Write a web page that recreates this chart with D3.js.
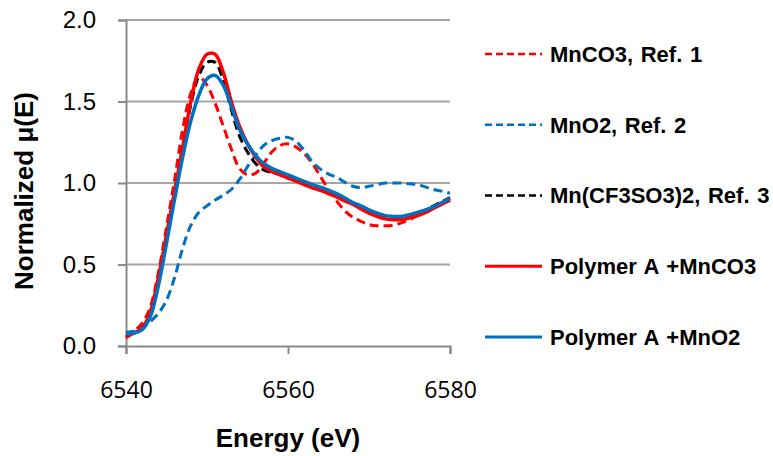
<!DOCTYPE html>
<html>
<head>
<meta charset="utf-8">
<script src="https://cdn.jsdelivr.net/npm/d3@7"></script>
<style>
  body { margin: 0; background: #fff; }
  svg { display: block; }
</style>
</head>
<body>
<div id="chart"></div>
<script>
// energy grid (eV), shared by all spectra
const energy = d3.range(6540, 6581, 1);

// normalized mu(E) at each energy
const mnco3Ref = [0.05, 0.09, 0.14, 0.24, 0.45, 0.73, 1.02, 1.33, 1.55, 1.65, 1.60, 1.49, 1.35, 1.21, 1.09, 1.05, 1.06, 1.12, 1.19, 1.23, 1.24,
  1.22, 1.18, 1.12, 1.04, 0.96, 0.89, 0.83, 0.79, 0.765, 0.745, 0.737, 0.737, 0.742, 0.755, 0.775, 0.80, 0.825, 0.85, 0.872, 0.895];
const mno2Ref = [0.085, 0.09, 0.11, 0.15, 0.20, 0.28, 0.42, 0.60, 0.74, 0.82, 0.86, 0.895, 0.925, 0.96, 1.02, 1.10, 1.17, 1.23, 1.26, 1.275, 1.28,
  1.255, 1.20, 1.13, 1.085, 1.055, 1.035, 1.005, 0.98, 0.972, 0.98, 0.99, 1.0, 1.0, 1.0, 0.995, 0.99, 0.975, 0.96, 0.95, 0.937];
const mnTriflateRef = [0.06, 0.08, 0.11, 0.20, 0.40, 0.66, 0.94, 1.22, 1.48, 1.66, 1.74, 1.74, 1.63, 1.45, 1.29, 1.19, 1.12, 1.08, 1.065, 1.06, 1.04,
  1.02, 1.005, 0.985, 0.97, 0.95, 0.93, 0.90, 0.875, 0.85, 0.82, 0.80, 0.785, 0.78, 0.785, 0.795, 0.815, 0.835, 0.86, 0.885, 0.91];
const polyMnco3 = [0.055, 0.08, 0.11, 0.21, 0.42, 0.68, 0.95, 1.22, 1.50, 1.70, 1.79, 1.79, 1.68, 1.50, 1.35, 1.24, 1.16, 1.10, 1.07, 1.05, 1.03,
  1.01, 0.99, 0.97, 0.955, 0.935, 0.915, 0.89, 0.87, 0.84, 0.815, 0.795, 0.78, 0.775, 0.775, 0.785, 0.80, 0.82, 0.845, 0.87, 0.895];
const polyMno2 = [0.075, 0.08, 0.10, 0.18, 0.37, 0.63, 0.90, 1.16, 1.38, 1.54, 1.64, 1.66, 1.60, 1.47, 1.33, 1.24, 1.17, 1.12, 1.09, 1.07, 1.05,
  1.03, 1.01, 0.99, 0.975, 0.955, 0.935, 0.91, 0.88, 0.86, 0.835, 0.815, 0.80, 0.795, 0.795, 0.805, 0.82, 0.835, 0.855, 0.88, 0.905];

const seriesNames = ["MnCO3, Ref. 1", "MnO2, Ref. 2", "Mn(CF3SO3)2, Ref. 3", "Polymer A +MnCO3", "Polymer A +MnO2"];
const seriesValues = [mnco3Ref, mno2Ref, mnTriflateRef, polyMnco3, polyMno2];
const seriesColors = ["#ff0000", "#0070c0", "#000000", "#ff0000", "#0070c0"];
const seriesDashed = [true, true, true, false, false];

const xTicks = [6540, 6560, 6580];
const yTicks = [0, 0.5, 1.0, 1.5, 2.0];

const margin = { top: 20, right: 323, bottom: 110, left: 126 };
const width = 773 - margin.left - margin.right;
const height = 456 - margin.top - margin.bottom;

const svg = d3.select("#chart").append("svg")
  .attr("width", 773)
  .attr("height", 456);

const g = svg.append("g")
  .attr("transform", "translate(" + margin.left + "," + margin.top + ")");

const x = d3.scaleLinear().domain([6540, 6580]).range([0, width]);
const y = d3.scaleLinear().domain([0, 2]).range([height, 0]);

// horizontal gridlines
g.selectAll(".grid")
  .data(yTicks.filter(d => d > 0))
  .enter().append("line")
  .attr("class", "grid")
  .attr("x1", 0)
  .attr("x2", width)
  .attr("y1", d => y(d))
  .attr("y2", d => y(d))
  .attr("stroke", "#a6a6a6")
  .attr("stroke-width", 2);

// axes
const yAxis = d3.axisLeft(y).tickValues(yTicks).tickFormat(d3.format(".1f")).tickSize(8).tickPadding(22);
const xAxis = d3.axisBottom(x).tickValues(xTicks).tickFormat(d3.format("d")).tickSize(8).tickPadding(28);

const yG = g.append("g").attr("class", "y-axis").call(yAxis);
const xG = g.append("g").attr("class", "x-axis")
  .attr("transform", "translate(0," + height + ")")
  .call(xAxis);

[yG, xG].forEach(a => {
  a.select(".domain").attr("stroke", "#898989").attr("stroke-width", 2);
  a.selectAll(".tick line").attr("stroke", "#898989").attr("stroke-width", 2);
});
yG.selectAll("text")
  .attr("font-family", "'Liberation Sans', Arial, sans-serif")
  .attr("font-size", 24)
  .attr("fill", "#000");
xG.selectAll("text")
  .attr("font-family", "'Open Sans', sans-serif")
  .attr("font-size", 23)
  .attr("fill", "#000");

// spectra
const line = d3.line()
  .x((d, i) => x(energy[i]))
  .y(d => y(d))
  .curve(d3.curveCatmullRom);

g.selectAll(".spectrum")
  .data(seriesValues)
  .enter().append("path")
  .attr("class", "spectrum")
  .attr("d", d => line(d))
  .attr("fill", "none")
  .attr("stroke", (d, i) => seriesColors[i])
  .attr("stroke-width", (d, i) => seriesDashed[i] ? 3 : 3.5)
  .attr("stroke-dasharray", (d, i) => seriesDashed[i] ? "9,5" : null);

// axis titles
svg.append("text")
  .attr("x", margin.left + width / 2)
  .attr("y", 447)
  .attr("text-anchor", "middle")
  .attr("font-family", "'Liberation Sans', Arial, sans-serif")
  .attr("font-weight", "bold")
  .attr("font-size", 26)
  .text("Energy (eV)");

svg.append("text")
  .attr("transform", "translate(33,191) rotate(-90)")
  .attr("text-anchor", "middle")
  .attr("font-family", "'Liberation Sans', Arial, sans-serif")
  .attr("font-weight", "bold")
  .attr("font-size", 26)
  .text("Normalized \u03bc(E)");

// legend
const legend = svg.append("g").attr("class", "legend");
const rows = legend.selectAll(".row")
  .data(seriesNames)
  .enter().append("g")
  .attr("class", "row")
  .attr("transform", (d, i) => "translate(485," + (54 + i * 70.75) + ")");

rows.append("line")
  .attr("x1", 0)
  .attr("x2", 57)
  .attr("stroke", (d, i) => seriesColors[i])
  .attr("stroke-width", (d, i) => seriesDashed[i] ? 2.5 : 3)
  .attr("stroke-dasharray", (d, i) => seriesDashed[i] ? "7,4" : null);

rows.append("text")
  .attr("x", 65)
  .attr("dy", "0.36em")
  .attr("font-family", "'Liberation Sans', Arial, sans-serif")
  .attr("font-weight", "bold")
  .attr("font-size", 22)
  .attr("word-spacing", 1.5)
  .text(d => d);
</script>
</body>
</html>
